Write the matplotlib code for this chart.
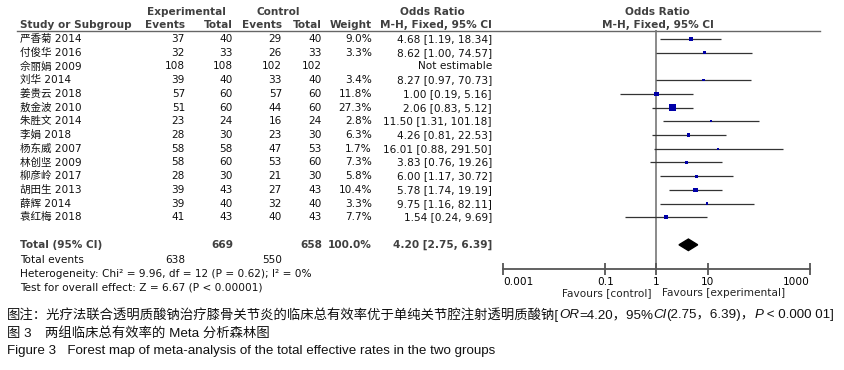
import numpy as np
import matplotlib
matplotlib.use('Agg')
import matplotlib.pyplot as plt
from matplotlib.patches import Polygon

studies = ['严香菊 2014', '付俊华 2016', '佘丽娟 2009', '刘华 2014', '姜贵云 2018', '敖金波 2010',
           '朱胜文 2014', '李娟 2018', '杨东威 2007', '林创坚 2009', '柳彦岭 2017', '胡田生 2013',
           '薛辉 2014', '袁红梅 2018']
exp_events = [37, 32, 108, 39, 57, 51, 23, 28, 58, 58, 28, 39, 39, 41]
exp_total = [40, 33, 108, 40, 60, 60, 24, 30, 58, 60, 30, 43, 40, 43]
ctrl_events = [29, 26, 102, 33, 57, 44, 16, 23, 47, 53, 21, 27, 32, 40]
ctrl_total = [40, 33, 102, 40, 60, 60, 24, 30, 53, 60, 30, 43, 40, 43]
weights = [9.0, 3.3, np.nan, 3.4, 11.8, 27.3, 2.8, 6.3, 1.7, 7.3, 5.8, 10.4, 3.3, 7.7]
odds = [4.68, 8.62, np.nan, 8.27, 1.00, 2.06, 11.50, 4.26, 16.01, 3.83, 6.00, 5.78, 9.75, 1.54]
ci_low = [1.19, 1.00, np.nan, 0.97, 0.19, 0.83, 1.31, 0.81, 0.88, 0.76, 1.17, 1.74, 1.16, 0.24]
ci_high = [18.34, 74.57, np.nan, 70.73, 5.16, 5.12, 101.18, 22.53, 291.50, 19.26, 30.72, 19.19, 82.11, 9.69]

pooled = (4.20, 2.75, 6.39)
total_n = (669, 658)
total_events = (638, 550)
axis_ticks = [0.001, 0.1, 1, 10, 1000]
axis_labels = ['0.001', '0.1', '1', '10', '1000']

W, H = 845, 370
ROW0, ROW_H = 39, 13.72
FS = 7.6
CAP_FS = 9.6
TXT = ['DejaVu Sans', 'Noto Sans CJK SC']
HEAD = '#404040'


def row_y(i):
    return ROW0 + ROW_H * i


def main():
    fig = plt.figure(figsize=(W / 100, H / 100), dpi=100)
    tax = fig.add_axes([0, 0, 1, 1])
    tax.set_xlim(0, W)
    tax.set_ylim(H, 0)
    tax.axis('off')

    def t(x, y, s, ha='left', bold=False, color='#111111', size=FS, **kw):
        tax.text(x, y, s, ha=ha, va='center', fontsize=size, family=TXT,
                 fontweight='bold' if bold else 'normal', color=color, **kw)

    # headers
    t(186, 12, 'Experimental', ha='center', bold=True, color=HEAD)
    t(278, 12, 'Control', ha='center', bold=True, color=HEAD)
    t(432, 12, 'Odds Ratio', ha='center', bold=True, color=HEAD)
    t(657, 12, 'Odds Ratio', ha='center', bold=True, color=HEAD)
    t(20, 25, 'Study or Subgroup', bold=True, color=HEAD)
    t(185, 25, 'Events', ha='right', bold=True, color=HEAD)
    t(233, 25, 'Total', ha='right', bold=True, color=HEAD)
    t(282, 25, 'Events', ha='right', bold=True, color=HEAD)
    t(322, 25, 'Total', ha='right', bold=True, color=HEAD)
    t(372, 25, 'Weight', ha='right', bold=True, color=HEAD)
    t(492, 25, 'M-H, Fixed, 95% CI', ha='right', bold=True, color=HEAD)
    t(658, 25, 'M-H, Fixed, 95% CI', ha='center', bold=True, color=HEAD)
    tax.plot([17, 820], [31, 31], color='#666666', lw=1)

    for i, name in enumerate(studies):
        y = row_y(i)
        t(20, y, name)
        t(185, y, str(exp_events[i]), ha='right')
        t(233, y, str(exp_total[i]), ha='right')
        t(282, y, str(ctrl_events[i]), ha='right')
        t(322, y, str(ctrl_total[i]), ha='right')
        if np.isnan(odds[i]):
            t(492, y, 'Not estimable', ha='right')
        else:
            t(372, y, '%.1f%%' % weights[i], ha='right')
            t(492, y, '%.2f [%.2f, %.2f]' % (odds[i], ci_low[i], ci_high[i]), ha='right')

    yt = row_y(15)
    t(20, yt, 'Total (95% CI)', bold=True, color=HEAD)
    t(233, yt, str(total_n[0]), ha='right', bold=True, color=HEAD)
    t(322, yt, str(total_n[1]), ha='right', bold=True, color=HEAD)
    t(372, yt, '100.0%', ha='right', bold=True, color=HEAD)
    t(492, yt, '%.2f [%.2f, %.2f]' % pooled, ha='right', bold=True, color=HEAD)
    t(20, 260, 'Total events')
    t(185, 260, str(total_events[0]), ha='right')
    t(282, 260, str(total_events[1]), ha='right')
    t(20, 274, 'Heterogeneity: Chi\u00b2 = 9.96, df = 12 (P = 0.62); I\u00b2 = 0%')
    t(20, 287, 'Test for overall effect: Z = 6.67 (P < 0.00001)')

    # forest panel
    top, bottom, left, right = 30, 269, 503, 810
    ax = fig.add_axes([left / W, 1 - bottom / H, (right - left) / W, (bottom - top) / H])
    ax.patch.set_alpha(0)
    ax.set_xscale('log')
    ax.set_xlim(0.001, 1000)
    ax.set_ylim((bottom - ROW0) / ROW_H, (top - ROW0) / ROW_H)
    for side in ['top', 'left', 'right']:
        ax.spines[side].set_visible(False)
    ax.spines['bottom'].set_color('#555555')
    ax.spines['bottom'].set_linewidth(1.3)
    ax.set_yticks([])
    ax.set_xticks(axis_ticks)
    ax.set_xticklabels(axis_labels)
    ax.minorticks_off()
    ax.tick_params(axis='x', direction='inout', length=8, width=1.3, color='#555555',
                   labelsize=FS, pad=2)
    for lab in ax.get_xticklabels():
        lab.set_family(TXT)
    labs = ax.get_xticklabels()
    labs[0].set_ha('left')
    labs[-1].set_ha('right')
    ax.axvline(1, color='#777777', lw=1.2, zorder=1)

    rows = np.arange(len(studies))
    lo = np.array(ci_low)
    hi = np.array(ci_high)
    ok = ~np.isnan(lo)
    ax.hlines(rows[ok], lo[ok], hi[ok], color='#333333', lw=0.9, zorder=2)
    ax.scatter(np.array(odds)[ok], rows[ok], s=np.array(weights)[ok] * 0.95, marker='s',
               color='#0000a8', edgecolors='none', zorder=3)
    est, plo, phi = pooled
    dh = 0.42
    ax.add_patch(Polygon([(plo, 15), (est, 15 - dh), (phi, 15), (est, 15 + dh)],
                         closed=True, color='black', zorder=3))
    ax.text(652, 293, 'Favours [control]', transform=tax.transData, ha='right', va='center',
            fontsize=FS, family=TXT, color='#222222')
    ax.text(662, 293, 'Favours [experimental]', transform=tax.transData, ha='left', va='center',
            fontsize=FS, family=TXT, color='#222222')

    # captions, drawn piece by piece so the italic parts sit inline
    renderer = fig.canvas.get_renderer()

    def runs(x, y, parts, size):
        for s, style, weight in parts:
            fam = ['Liberation Sans', 'Noto Sans CJK SC']
            txt = tax.text(x, y, s, ha='left', va='center', fontsize=size, family=fam,
                           style=style, fontweight=weight, color='#111111')
            x += txt.get_window_extent(renderer).width

    cap = [('图注：光疗法联合透明质酸钠治疗膝骨关节炎的临床总有效率优于单纯关节腔注射透明质酸钠[', 'normal', 'normal'),
           ('OR', 'italic', 'normal'), ('=4.20，95%', 'normal', 'normal'), ('CI', 'italic', 'normal'),
           ('(2.75，6.39)，', 'normal', 'normal'), ('P', 'italic', 'normal'),
           (' < 0.000 01]', 'normal', 'normal')]
    runs(7, 315, cap, CAP_FS)
    runs(7, 333, [('图 3\u3000两组临床总有效率的 Meta 分析森林图', 'normal', 'medium')], CAP_FS)
    runs(7, 351, [('Figure 3   Forest map of meta-analysis of the total effective rates in the two groups',
                   'normal', 'normal')], CAP_FS)

    fig.savefig('out.png', dpi=100)


if __name__ == '__main__':
    main()
